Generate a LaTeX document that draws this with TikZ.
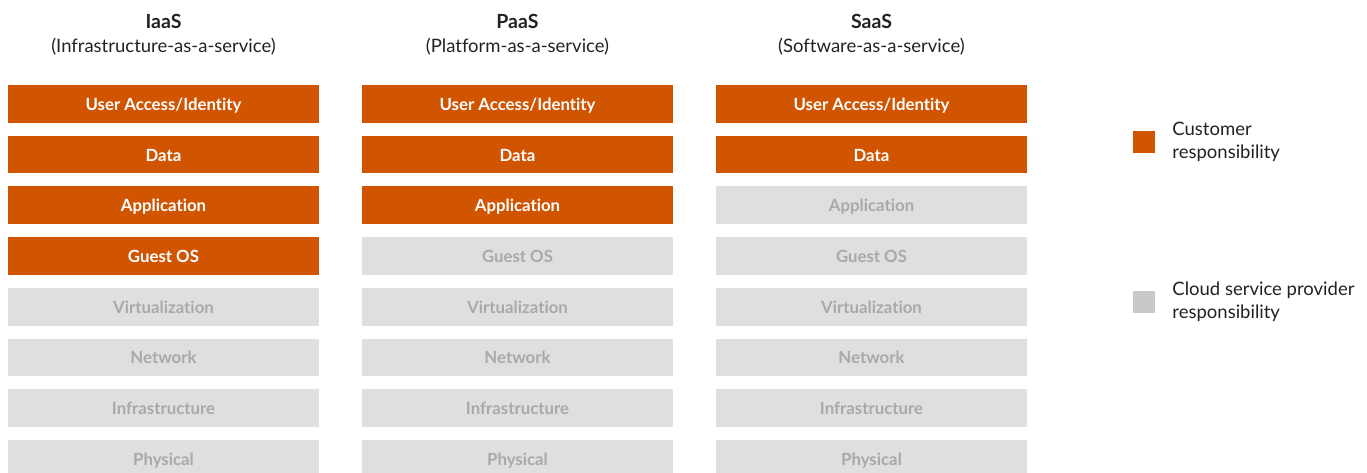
\documentclass[tikz,border=0pt]{standalone}
\usepackage{fontspec}
\setmainfont{Lato}[Ligatures={NoCommon}]
\usepackage{xcolor}
\usepackage{tikz}
\usetikzlibrary{positioning}
\definecolor{custorange}{RGB}{209,84,0}
\definecolor{provgray}{RGB}{222,223,222}
\definecolor{provtext}{RGB}{168,169,168}
\definecolor{legendgray}{RGB}{200,201,203}
\definecolor{headtext}{RGB}{34,34,34}

\begin{document}
\begin{tikzpicture}[x=1pt,y=-1pt,
  layer/.style={minimum width=311pt,minimum height=37.7pt,inner sep=0pt,text height=13pt,text depth=0pt,font=\fontsize{16.8}{20}\selectfont\bfseries},
  cust/.style={layer,fill=custorange,text=white},
  prov/.style={layer,fill=provgray,text=provtext},
  title/.style={anchor=base,text=headtext,inner sep=0pt,font=\fontsize{19.5}{23}\selectfont\bfseries},
  subtitle/.style={anchor=base,text=headtext,inner sep=0pt,font=\fontsize{18.5}{22}\selectfont},
  legbox/.style={minimum size=22pt,inner sep=0pt},
  legtext/.style={anchor=west,align=left,text=headtext,inner sep=0pt,font=\fontsize{18.5}{23.3}\selectfont}]
\clip (0,0) rectangle (1367,473);
\useasboundingbox (0,0) rectangle (1367,473);
%headings
\node [title] (iaasT) at (163.5,29) {IaaS};
\node [subtitle] (iaasS) at (163.5,53) {(Infrastructure-as-a-service)};
\node [title] (paasT) at (517.5,29) {PaaS};
\node [subtitle] (paasS) at (517.5,53) {(Platform-as-a-service)};
\node [title] (saasT) at (871.5,29) {SaaS};
\node [subtitle] (saasS) at (871.5,53) {(Software-as-a-service)};
%IaaS stack
\node [cust] (iaas1) at (163.5,103.9) {User Access/Identity};
\node [cust] (iaas2) at (163.5,154.6) {Data};
\node [cust] (iaas3) at (163.5,205.3) {Application};
\node [cust] (iaas4) at (163.5,256.0) {Guest OS};
\node [prov] (iaas5) at (163.5,306.7) {Virtualization};
\node [prov] (iaas6) at (163.5,357.4) {Network};
\node [prov] (iaas7) at (163.5,408.1) {Infrastructure};
\node [prov] (iaas8) at (163.5,458.8) {Physical};
%PaaS stack
\node [cust] (paas1) at (517.5,103.9) {User Access/Identity};
\node [cust] (paas2) at (517.5,154.6) {Data};
\node [cust] (paas3) at (517.5,205.3) {Application};
\node [prov] (paas4) at (517.5,256.0) {Guest OS};
\node [prov] (paas5) at (517.5,306.7) {Virtualization};
\node [prov] (paas6) at (517.5,357.4) {Network};
\node [prov] (paas7) at (517.5,408.1) {Infrastructure};
\node [prov] (paas8) at (517.5,458.8) {Physical};
%SaaS stack
\node [cust] (saas1) at (871.5,103.9) {User Access/Identity};
\node [cust] (saas2) at (871.5,154.6) {Data};
\node [prov] (saas3) at (871.5,205.3) {Application};
\node [prov] (saas4) at (871.5,256.0) {Guest OS};
\node [prov] (saas5) at (871.5,306.7) {Virtualization};
\node [prov] (saas6) at (871.5,357.4) {Network};
\node [prov] (saas7) at (871.5,408.1) {Infrastructure};
\node [prov] (saas8) at (871.5,458.8) {Physical};
%legend
\node [legbox,fill=custorange] (custKey) at (1144,141.9) {};
\node [legtext,right=17pt of custKey] (custText) {Customer\\responsibility};
\node [legbox,fill=legendgray] (provKey) at (1144,301.9) {};
\node [legtext,right=17pt of provKey] (provText) {Cloud service provider\\responsibility};
\end{tikzpicture}
\end{document}
